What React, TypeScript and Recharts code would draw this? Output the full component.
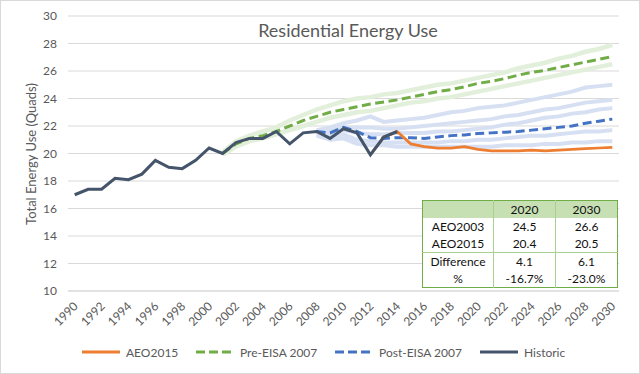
import React from "react";
import { LineChart, Line, XAxis, YAxis, CartesianGrid } from "recharts";

const years = [
  1990, 1991, 1992, 1993, 1994, 1995, 1996, 1997, 1998, 1999,
  2000, 2001, 2002, 2003, 2004, 2005, 2006, 2007, 2008, 2009,
  2010, 2011, 2012, 2013, 2014, 2015, 2016, 2017, 2018, 2019,
  2020, 2021, 2022, 2023, 2024, 2025, 2026, 2027, 2028, 2029, 2030,
];

const yTicks = [10, 12, 14, 16, 18, 20, 22, 24, 26, 28, 30];

// 1990-2014
const historic = [
  17.0, 17.4, 17.4, 18.2, 18.1, 18.5, 19.5, 19.0, 18.9, 19.5,
  20.4, 20.0, 20.8, 21.1, 21.1, 21.6, 20.7, 21.5, 21.6, 21.1,
  21.8, 21.5, 19.9, 21.2, 21.6,
];

// 2012-2030
const aeo2015 = [
  19.9, 21.2, 21.6, 20.7, 20.5, 20.4, 20.4, 20.5, 20.3, 20.2,
  20.2, 20.2, 20.25, 20.2, 20.25, 20.3, 20.35, 20.4, 20.45,
];

// 2001-2030
const preEisa = [
  20.0, 20.7, 21.1, 21.3, 21.6, 22.0, 22.4, 22.7, 23.0, 23.2,
  23.4, 23.6, 23.75, 23.9, 24.1, 24.3, 24.5, 24.65, 24.85, 25.1,
  25.25, 25.45, 25.7, 25.9, 26.05, 26.25, 26.45, 26.65, 26.85, 27.05,
];
const preHigh = [
  20.1, 20.9, 21.3, 21.6, 21.9, 22.4, 22.8, 23.2, 23.5, 23.8,
  24.0, 24.1, 24.3, 24.4, 24.6, 24.8, 25.0, 25.1, 25.3, 25.5,
  25.7, 25.9, 26.2, 26.4, 26.6, 26.9, 27.1, 27.4, 27.6, 27.9,
];
const preLow = [
  19.9, 20.5, 20.9, 21.1, 21.4, 21.7, 22.0, 22.3, 22.6, 22.8,
  23.0, 23.1, 23.3, 23.5, 23.7, 23.8, 24.0, 24.1, 24.3, 24.5,
  24.7, 24.9, 25.1, 25.3, 25.5, 25.7, 25.9, 26.1, 26.3, 26.5,
];

// 2008-2030
const postEisa = [
  21.6, 21.5, 21.9, 21.6, 21.15, 21.1, 21.15, 21.15, 21.1, 21.2,
  21.3, 21.35, 21.45, 21.5, 21.55, 21.6, 21.7, 21.8, 21.9, 22.0,
  22.2, 22.35, 22.5,
];
const post1 = [
  21.7, 21.9, 22.2, 22.4, 22.7, 22.3, 22.4, 22.5, 22.6, 22.8,
  23.0, 23.1, 23.3, 23.4, 23.5, 23.7, 23.9, 24.1, 24.3, 24.5,
  24.8, 24.9, 25.0,
];
const post2 = [
  21.6, 21.7, 21.9, 21.9, 21.9, 21.8, 21.8, 21.9, 22.0, 22.1,
  22.2, 22.3, 22.4, 22.5, 22.7, 22.8, 23.0, 23.2, 23.3, 23.5,
  23.7, 23.8, 23.9,
];
const post3 = [
  21.5, 21.5, 21.7, 21.5, 21.4, 21.4, 21.5, 21.5, 21.5, 21.6,
  21.6, 21.7, 21.8, 21.9, 22.1, 22.2, 22.4, 22.6, 22.7, 22.9,
  23.0, 23.2, 23.3,
];
const post4 = [
  21.4, 21.2, 21.4, 21.0, 20.9, 20.8, 20.8, 20.8, 20.8, 20.8,
  20.9, 20.9, 21.0, 21.0, 21.1, 21.2, 21.3, 21.3, 21.4, 21.5,
  21.6, 21.6, 21.7,
];
const post5 = [
  21.3, 21.0, 21.1, 20.7, 20.6, 20.6, 20.5, 20.5, 20.5, 20.5,
  20.5, 20.5, 20.5, 20.5, 20.6, 20.6, 20.6, 20.7, 20.7, 20.8,
  20.8, 20.9, 20.9,
];

const tableYears = ["2020", "2030"];
const tableRows = [
  ["AEO2003", "24.5", "26.6"],
  ["AEO2015", "20.4", "20.5"],
  ["Difference", "4.1", "6.1"],
  ["%", "-16.7%", "-23.0%"],
];

const pick = (arr: number[], start: number, year: number) => {
  const i = year - start;
  return i >= 0 && i < arr.length ? arr[i] : null;
};

const data = years.map((y) => ({
  year: String(y),
  historic: pick(historic, 1990, y),
  aeo2015: pick(aeo2015, 2012, y),
  preEisa: pick(preEisa, 2001, y),
  preHigh: pick(preHigh, 2001, y),
  preLow: pick(preLow, 2001, y),
  postEisa: pick(postEisa, 2008, y),
  post1: pick(post1, 2008, y),
  post2: pick(post2, 2008, y),
  post3: pick(post3, 2008, y),
  post4: pick(post4, 2008, y),
  post5: pick(post5, 2008, y),
}));

const FONT = "Lato, 'Open Sans', sans-serif";
const GREY = "#595959";

const XTick = (props: any) => {
  const { x, y, payload } = props;
  const tx = x + 4;
  const ty = y + 16;
  return (
    <text
      x={tx}
      y={ty}
      transform={`rotate(-45, ${tx}, ${ty})`}
      textAnchor="end"
      fontSize={12}
      fill={GREY}
      fontFamily={FONT}
    >
      {payload.value}
    </text>
  );
};

const legendItems = [
  { label: "AEO2015", color: "#ed7d31", dash: undefined, left: 82 },
  { label: "Pre-EISA 2007", color: "#70ad47", dash: "9 4", left: 196 },
  { label: "Post-EISA 2007", color: "#4472c4", dash: "9 4", left: 335 },
  { label: "Historic", color: "#44546a", dash: undefined, left: 480 },
];

const cell: React.CSSProperties = {
  padding: 0,
  height: 17,
  lineHeight: "17px",
  textAlign: "center",
  borderLeft: "1px solid #a9d08e",
};

export default function App() {
  const lightBlue = "#d6e0f2";
  const lightGreen = "#e2efda";
  return (
    <div
      style={{
        position: "absolute",
        left: 0,
        top: 0,
        width: 640,
        height: 374,
        background: "#fff",
        fontFamily: FONT,
        overflow: "hidden",
      }}
    >
      <LineChart
        width={640}
        height={374}
        data={data}
        margin={{ top: 16, right: 21, bottom: 0, left: 0 }}
      >
        <CartesianGrid vertical={false} stroke="#d9d9d9" />
        <XAxis
          dataKey="year"
          interval={1}
          height={83}
          tickSize={0}
          tickMargin={0}
          tickLine={false}
          axisLine={{ stroke: "#d9d9d9" }}
          padding={{ left: 6.7, right: 6.7 }}
          tick={<XTick />}
        />
        <YAxis
          width={68}
          domain={[10, 30]}
          ticks={yTicks}
          tickSize={0}
          tickMargin={11}
          axisLine={false}
          tickLine={false}
          tick={{ fill: GREY, fontSize: 12, fontFamily: FONT }}
        />
        {["preHigh", "preLow"].map((k) => (
          <Line key={k} dataKey={k} stroke={lightGreen} strokeWidth={4.5} dot={false} isAnimationActive={false} />
        ))}
        {["post1", "post2", "post3", "post4", "post5"].map((k) => (
          <Line key={k} dataKey={k} stroke={lightBlue} strokeWidth={4} dot={false} isAnimationActive={false} />
        ))}
        <Line dataKey="preEisa" stroke="#70ad47" strokeWidth={3} strokeDasharray="9 4.5" dot={false} isAnimationActive={false} />
        <Line dataKey="postEisa" stroke="#4472c4" strokeWidth={3} strokeDasharray="9 4.5" dot={false} isAnimationActive={false} />
        <Line dataKey="aeo2015" stroke="#ed7d31" strokeWidth={2.75} dot={false} isAnimationActive={false} />
        <Line dataKey="historic" stroke="#44546a" strokeWidth={3} dot={false} isAnimationActive={false} />
      </LineChart>

      <div
        style={{
          position: "absolute",
          left: 198,
          top: 19,
          width: 300,
          textAlign: "center",
          fontSize: 18,
          color: GREY,
          lineHeight: "22px",
        }}
      >
        Residential Energy Use
      </div>

      <div
        style={{
          position: "absolute",
          left: 31 - 100,
          top: 154 - 9,
          width: 200,
          height: 18,
          lineHeight: "18px",
          textAlign: "center",
          fontSize: 13,
          color: GREY,
          transform: "rotate(-90deg)",
        }}
      >
        Total Energy Use (Quads)
      </div>

      <table
        style={{
          position: "absolute",
          left: 422,
          top: 200,
          width: 195,
          borderCollapse: "collapse",
          tableLayout: "fixed",
          background: "#fff",
          border: "1.5px solid #70ad47",
          fontSize: 12,
          color: "#111",
        }}
      >
        <colgroup>
          <col style={{ width: 71 }} />
          <col style={{ width: 62 }} />
          <col style={{ width: 62 }} />
        </colgroup>
        <tbody>
          <tr style={{ background: "#c6e0b4" }}>
            <td style={{ ...cell, borderLeft: "none" }}></td>
            {tableYears.map((t) => (
              <td key={t} style={{ ...cell }}>{t}</td>
            ))}
          </tr>
          {tableRows.map((r, i) => (
            <tr key={r[0]} style={{ borderTop: i === 2 ? "1px solid #a9d08e" : "none" }}>
              {r.map((v, j) => (
                <td key={j} style={{ ...cell, borderLeft: j === 0 ? "none" : cell.borderLeft }}>{v}</td>
              ))}
            </tr>
          ))}
        </tbody>
      </table>

      {legendItems.map((it) => (
        <div
          key={it.label}
          style={{
            position: "absolute",
            left: it.left,
            top: 343,
            height: 18,
            display: "flex",
            alignItems: "center",
            fontSize: 12,
            color: GREY,
            whiteSpace: "nowrap",
          }}
        >
          <svg width={40} height={6} style={{ marginRight: 4 }}>
            <line x1={0} y1={3} x2={38} y2={3} stroke={it.color} strokeWidth={3} strokeDasharray={it.dash} />
          </svg>
          {it.label}
        </div>
      ))}

      <div
        style={{
          position: "absolute",
          left: 0,
          top: 0,
          width: 640,
          height: 374,
          boxSizing: "border-box",
          border: "1px solid #d9d9d9",
          pointerEvents: "none",
        }}
      />
    </div>
  );
}
